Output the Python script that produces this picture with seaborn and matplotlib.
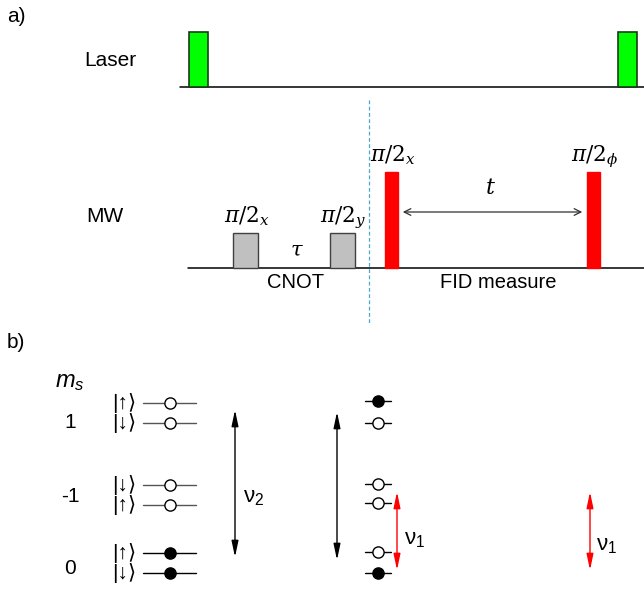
import matplotlib
matplotlib.use("Agg")
import matplotlib.pyplot as plt
import seaborn as sns
import pandas as pd

sns.set_theme(style="white")
plt.rcParams['font.family'] = ['Liberation Sans', 'DejaVu Sans']
plt.rcParams['text.color'] = 'black'
plt.rcParams['mathtext.fontset'] = 'custom'
plt.rcParams['mathtext.rm'] = 'Liberation Sans'
plt.rcParams['mathtext.it'] = 'Liberation Sans:italic'
plt.rcParams['mathtext.bf'] = 'Liberation Sans:bold'

# ---- data (pixel-space schematic) ----
laser_pulse_x = [189, 618]
laser_pulse_w = [19, 19]
laser_pulse_top = [32, 32]
laser_base_y = 87

mw_pulse_x = [233, 330, 385, 587]
mw_pulse_w = [25, 25, 13, 13]
mw_pulse_top = [233, 233, 172, 172]
mw_pulse_colors = ['#c0c0c0', '#c0c0c0', '#ff0000', '#ff0000']
mw_pulse_edges = ['#404040', '#404040', '#ff0000', '#ff0000']
mw_pulse_labels = [r'$\pi/2_x$', r'$\pi/2_y$', r'$\pi/2_x$', r'$\pi/2_\phi$']
mw_base_y = 268

left_level_y = [403, 423, 485, 505, 553, 573]
left_level_kets = ['|↑⟩', '|↓⟩', '|↓⟩', '|↑⟩', '|↑⟩', '|↓⟩']
left_level_filled = [False, False, False, False, True, True]
mid_level_y = [401, 423, 484, 503, 552, 573]
mid_level_filled = [True, False, False, False, False, True]
ms_labels = ['1', '-1', '0']
ms_label_y = [423, 497, 569]

W, H = 644, 589
fig = plt.figure(figsize=(W / 100, H / 100), dpi=100)
ax = fig.add_axes([0, 0, 1, 1])
ax.set_xlim(0, W)
ax.set_ylim(H, 0)
ax.axis('off')

# ---- panel a ----
ax.text(7, 17, 'a)', fontsize=15, va='center', ha='left')
ax.text(110, 60, 'Laser', fontsize=15, va='center', ha='center')
ax.text(105, 217, 'MW', fontsize=15, va='center', ha='center')

ax.plot([180, W], [laser_base_y, laser_base_y], color='black', lw=1.1)
ax.bar(laser_pulse_x, [t - laser_base_y for t in laser_pulse_top], width=laser_pulse_w,
       bottom=laser_base_y, align='edge', color='#00ff00', edgecolor='#1a3a1a', lw=1.2, zorder=3)

ax.plot([188, W], [mw_base_y, mw_base_y], color='black', lw=1.1)
ax.bar(mw_pulse_x, [t - mw_base_y for t in mw_pulse_top], width=mw_pulse_w,
       bottom=mw_base_y, align='edge', color=mw_pulse_colors, edgecolor=mw_pulse_edges,
       lw=1.0, zorder=3)
for x, w, top, lab in zip(mw_pulse_x, mw_pulse_w, mw_pulse_top, mw_pulse_labels):
    ax.text(x + w / 2 + 1, top - 11, lab, fontsize=15.5, ha='center', va='baseline',
            math_fontfamily='dejavuserif')

ax.text(297, 250, r'$\tau$', fontsize=15, ha='center', va='center',
        math_fontfamily='dejavuserif')
ax.text(490, 188, r'$t$', fontsize=16, ha='center', va='center',
        math_fontfamily='dejavuserif')
ax.annotate('', xy=(585, 212), xytext=(400, 212),
            arrowprops=dict(arrowstyle='<->', color='#303030', lw=0.9,
                            mutation_scale=12))
ax.text(296, 282, 'CNOT', fontsize=14.5, ha='center', va='center')
ax.text(498, 282, 'FID measure', fontsize=14.5, ha='center', va='center')
ax.plot([369, 369], [100, 325], color='#4aa8c8', lw=0.9, ls=(0, (3, 2)))

# ---- panel b ----
ax.text(7, 343, 'b)', fontsize=15, va='center', ha='left')
ax.text(70, 382, r'$m_s$', fontsize=17, ha='center', va='center')
for lab, y in zip(ms_labels, ms_label_y):
    ax.text(70, y, lab, fontsize=15, ha='center', va='center')

for y, k, f in zip(left_level_y, left_level_kets, left_level_filled):
    ax.plot([143, 196], [y, y], color='black' if f else '#555555', lw=1.0, zorder=1)
    ax.text(124, y, k, fontsize=15, ha='center', va='center')
for y, f in zip(mid_level_y, mid_level_filled):
    ax.plot([365, 391], [y, y], color='black', lw=1.0, zorder=1)

pts = pd.DataFrame({
    'x': [170] * len(left_level_y) + [378] * len(mid_level_y),
    'y': left_level_y + mid_level_y,
    'filled': left_level_filled + mid_level_filled,
})
for filled, sub in pts.groupby('filled'):
    sns.scatterplot(data=sub, x='x', y='y', ax=ax, s=65, marker='o',
                    color='black' if filled else 'white', edgecolor='black',
                    linewidth=1.0, zorder=3, legend=False)
ax.set_xlim(0, W)
ax.set_ylim(H, 0)
ax.set_xlabel('')
ax.set_ylabel('')

def varrow(x, y0, y1, color):
    ax.annotate('', xy=(x, y1), xytext=(x, y0),
                arrowprops=dict(arrowstyle='<|-|>,head_length=0.8,head_width=0.17',
                                color=color, lw=1.0,
                                mutation_scale=12, shrinkA=0, shrinkB=0))

varrow(235, 410, 557, 'black')
varrow(337, 412, 560, 'black')
varrow(397, 492, 570, '#ff0000')
varrow(590, 492, 570, '#ff0000')
ax.text(243, 497, r'ν$_2$', fontsize=16, ha='left', va='center')
ax.text(404, 540, r'ν$_1$', fontsize=16, ha='left', va='center')
ax.text(596, 545, r'ν$_1$', fontsize=16, ha='left', va='center')

fig.savefig('out.png', dpi=100)
